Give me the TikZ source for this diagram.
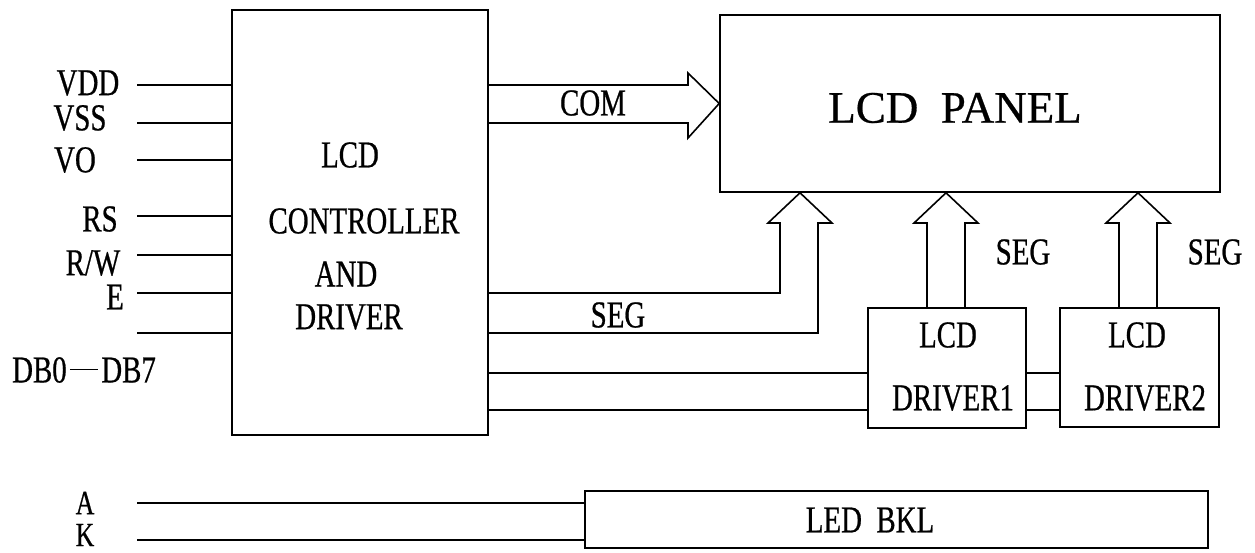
\documentclass[tikz,border=0pt]{standalone}
\usepackage{fontspec}
\setmainfont{Liberation Serif}[FakeStretch=0.76, FakeBold=0.6]
\newfontfamily\panelfont{Liberation Serif}[FakeBold=0.6]
\usetikzlibrary{positioning}
\usetikzlibrary{calc}

\begin{document}
\begin{tikzpicture}[x=1pt, y=-1pt, line width=1.6pt,
	every node/.style={font=\fontsize{38}{42}\selectfont, inner sep=0pt},
	block/.style={draw=black, fill=white, rectangle, inner sep=0pt},
	wide/.style={font=\panelfont\fontsize{45}{50}\selectfont},
	small/.style={font=\fontsize{34}{37}\selectfont}]

  \useasboundingbox (0,0) rectangle (1255,552);

  % blocks
  \node[block, minimum width=256pt, minimum height=425pt] (ctrl) at (360,222.5) {};
  \node[block, minimum width=500pt, minimum height=177pt] (panel) at (970,103.5) {};
  \node[block, minimum width=158pt, minimum height=120pt] (drv1) at (947,368) {};
  \node[block, minimum width=159pt, minimum height=119pt] (drv2) at (1139.5,367.5) {};
  \node[block, minimum width=623pt, minimum height=57pt] (bkl) at (896.5,519.5) {};

  % texts in the blocks
  \node (ctrl1) at (350,155) {LCD};
  \node (ctrl2) at (364,221) {CONTROLLER};
  \node (ctrl3) at (346,274) {AND};
  \node (ctrl4) at (349,317) {DRIVER};
  \node[wide] (paneltext) at (955,108) {LCD\ \ PANEL};
  \node (drv1a) at (948,335) {LCD};
  \node (drv1b) at (953,398) {DRIVER1};
  \node (drv2a) at (1137,335) {LCD};
  \node (drv2b) at (1145,398) {DRIVER2};
  \node (bkltext) at (870,520) {LED\ \ BKL};

  % pins
  \foreach \nm/\yy in {vdd/85, vss/123, vo/160, rs/216, rw/255, e/293, db/333} {
    \coordinate (p\nm) at (137,\yy);
    \draw (p\nm) -- (p\nm -| ctrl.west);
  }
  \node (lvdd) at (88,83) {VDD};
  \node (lvss) at (80,118) {VSS};
  \node (lvo) at (75,160) {VO};
  \node (lrs) at (100,219) {RS};
  \node (lrw) at (93,263) {R/W};
  \node (le) at (115,297) {E};
  \node (ldb) at (84,370) {DB0\hspace{0.08em}{\rule[0.33em]{0.75em}{1.4pt}}\hspace{0.08em}DB7};

  \coordinate (pa) at (137,503);
  \coordinate (pk) at (137,540);
  \draw (pa) -- (pa -| bkl.west);
  \draw (pk) -- (pk -| bkl.west);
  \node[small] (la) at (85,503) {A};
  \node[small] (lk) at (85,535) {K};

  % COM bus
  \coordinate (comtip) at (panel.west);
  \draw (ctrl.east |- 0,85) -- (688,85) -- (688,73) -- (comtip)
    -- (688,138) -- (688,123) -- (ctrl.east |- 0,123);
  \node (com) at (593,103) {COM};

  % SEG bus from the controller
  \coordinate (segtip) at (panel.south -| 800,0);
  \draw (ctrl.east |- 0,293) -- (780,293) -- (780,223) -- (768,223) -- (segtip)
    -- (832,223) -- (818,223) -- (818,333) -- (ctrl.east |- 0,333);
  \node (seg0) at (618,315) {SEG};

  % SEG buses from the drivers
  \foreach \d/\tx in {drv1/946, drv2/1138}
    \draw (\d.north -| \tx-19,0) -- (\tx-19,223) -- (\tx-32,223) -- (panel.south -| \tx,0)
      -- (\tx+32,223) -- (\tx+19,223) -- (\d.north -| \tx+19,0);
  \node (seg1) at (1023,252) {SEG};
  \node (seg2) at (1215,252) {SEG};

  % driver lines
  \foreach \yy in {373,410} {
    \draw (ctrl.east |- 0,\yy) -- (drv1.west |- 0,\yy);
    \draw (drv1.east |- 0,\yy) -- (drv2.west |- 0,\yy);
  }
\end{tikzpicture}
\end{document}
